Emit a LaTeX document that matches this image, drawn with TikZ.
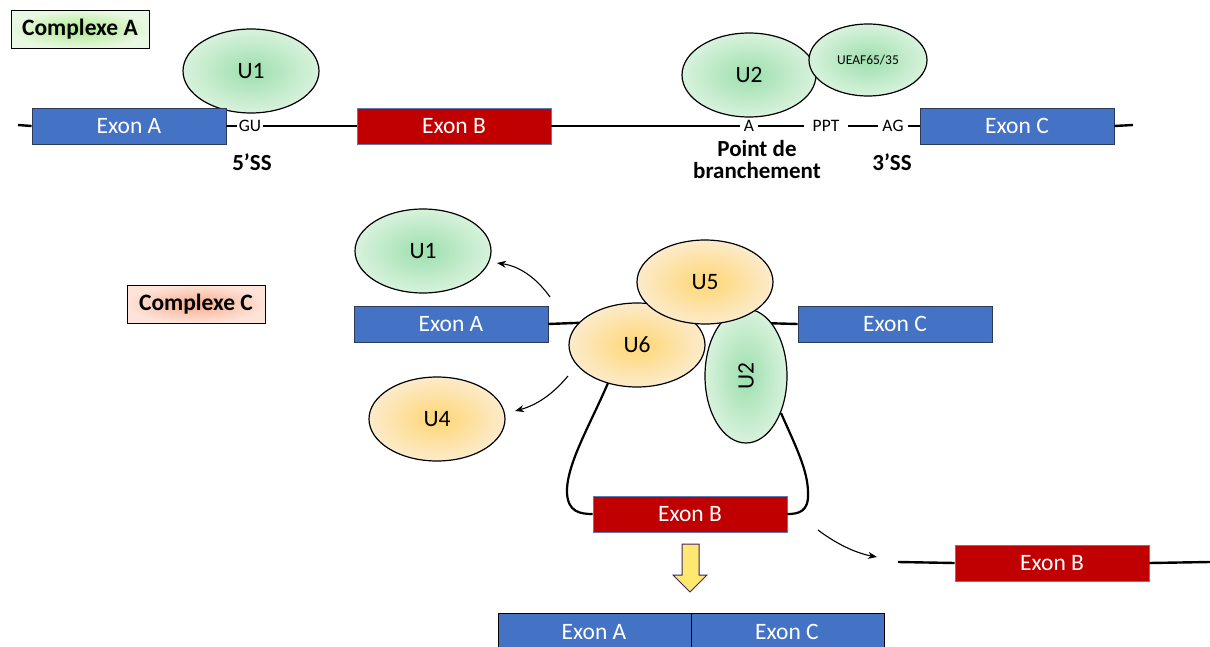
\documentclass[tikz,border=0pt]{standalone}
\usepackage{fontspec}
\setmainfont{Carlito}
\usetikzlibrary{shapes.geometric,arrows.meta}
\definecolor{exblue}{HTML}{4472C4}
\definecolor{exblueb}{HTML}{2B3A57}
\definecolor{exred}{HTML}{C00000}
\definecolor{exredb}{HTML}{5A7BB5}
\definecolor{gin}{HTML}{9DDFAE}
\definecolor{gout}{HTML}{D8F2DC}
\definecolor{yin}{HTML}{FFD673}
\definecolor{yout}{HTML}{FCEBCB}
\definecolor{cain}{HTML}{ACEA8C}
\definecolor{caout}{HTML}{E9F8E2}
\definecolor{ccin}{HTML}{F8AC8C}
\definecolor{ccout}{HTML}{FDE3D8}
\definecolor{arry}{HTML}{FFE870}
\definecolor{arrp}{HTML}{3F2266}
\tikzset{
  exbox/.style={draw=exblueb, line width=0.9pt, fill=exblue, text=white,
    minimum width=194pt, minimum height=36pt, inner sep=0pt,
    font=\fontsize{23.5}{26}\selectfont},
  exboxred/.style={exbox, draw=exredb, fill=exred},
  gell/.style={ellipse, draw=black, line width=1.2pt, inner color=gin, outer color=gout,
    minimum width=136pt, minimum height=84pt, inner sep=0pt,
    font=\fontsize{23.5}{26}\selectfont},
  yell/.style={gell, inner color=yin, outer color=yout},
  strand/.style={line width=2.4pt, black},
  site/.style={inner sep=0pt, font=\fontsize{17.5}{20}\selectfont},
  blab/.style={font=\fontsize{23}{26}\selectfont\bfseries, align=center},
  thinarr/.style={line width=1.1pt, -{Stealth[length=9pt,width=7pt]}},
  cplx/.style={draw=black, line width=1pt, minimum width=138pt, minimum height=38pt,
    inner sep=0pt, font=\fontsize{23.5}{26}\selectfont\bfseries}
}
\begin{document}
\begin{tikzpicture}[x=1pt,y=-1pt]
\useasboundingbox (0,0) rectangle (1210,647);
\fill[white] (0,0) rectangle (1210,647);

% ---------- Complexe A ----------
\node[cplx, inner color=cain, outer color=caout] (cA) at (80,29.5) {Complexe A};

\node[gell] (U1a) at (251,71) {U1};
\node[gell, minimum width=134pt] (U2a) at (749,75) {U2};
\node[gell, minimum width=118pt, minimum height=72pt, font=\fontsize{13.5}{15}\selectfont] (UEAF) at (868,60) {UEAF65/35};

\coordinate (L0) at (18,125);
\coordinate (L1) at (1133,125);
\node[exbox] (exA1) at (129,126) {Exon A};
\node[site, inner xsep=1.5pt] (GU) at (250,126) {GU};
\node[exboxred] (exB1) at (454,126) {Exon B};
\node[site, inner xsep=4pt] (Asite) at (749,126) {A};
\node[site, inner xsep=9pt] (PPT) at (826,126) {PPT};
\node[site, inner xsep=4pt] (AG) at (893,126) {AG};
\node[exbox] (exC1) at (1017,126) {Exon C};

\draw[strand] (L0) -- (exA1.west);
\draw[strand] (exA1.east) -- (GU.west);
\draw[strand] (GU.east) -- (exB1.west);
\draw[strand] (exB1.east) -- (Asite.west);
\draw[strand] (Asite.east) -- (PPT.west);
\draw[strand] (PPT.east) -- (AG.west);
\draw[strand] (AG.east) -- (exC1.west);
\draw[strand] (exC1.east) -- (L1);

\node[blab] (ss5) at (252,162) {5’SS};
\node[blab] (bp) at (757,160) {Point de\\[-4pt]branchement};
\node[blab] (ss3) at (892,162) {3’SS};

% ---------- Complexe C ----------
\node[cplx, inner color=ccin, outer color=ccout] (cC) at (196,304) {Complexe C};

\node[exbox] (exA2) at (451,324) {Exon A};
\node[exbox] (exC2) at (895,324) {Exon C};
\node[exboxred] (exB2) at (690,514) {Exon B};

\coordinate (U6in) at (600,322);
\coordinate (U2in) at (760,323);
\draw[strand] (exA2.east) -- (U6in);
\draw[strand] (exC2.west) -- (U2in);

\coordinate (lpA) at (608,383);
\coordinate (lpB) at (781,413);
\draw[strand, line width=2.2pt] (lpA) .. controls (590,425) and (566,465) .. (567,493)
   .. controls (568,512) and (580,514) .. (exB2.west);
\draw[strand, line width=2.2pt] (lpB) .. controls (795,445) and (808,470) .. (808,493)
   .. controls (809,512) and (798,514) .. (exB2.east);

\node[gell, minimum width=82pt, minimum height=134pt] (U2c) at (746,376) {\rotatebox{90}{U2}};
\node[yell] (U6) at (637,345) {U6};
\node[yell] (U5) at (705,282) {U5};

\node[gell] (U1c) at (423,251) {U1};
\node[yell] (U4) at (437,419) {U4};

\coordinate (a1s) at (550,297);
\coordinate (a1e) at (497,263);
\draw[thinarr] (a1s) .. controls (535,276) and (518,266) .. (a1e);
\coordinate (a4s) at (568,376);
\coordinate (a4e) at (515,411);
\draw[thinarr] (a4s) .. controls (553,394) and (537,405) .. (a4e);
\coordinate (a5s) at (818,530);
\coordinate (a5e) at (877,557);
\draw[thinarr] (a5s) .. controls (835,543) and (855,553) .. (a5e);

% excised exon B
\coordinate (R0) at (898,562);
\coordinate (R1) at (1210,562);
\node[exboxred] (exB3) at (1052,563) {Exon B};
\draw[strand] (R0) -- (exB3.west);
\draw[strand] (exB3.east) -- (R1);

% yellow arrow
\draw[fill=arry, draw=arrp, line width=1pt, line join=miter]
  (682,544) -- (699,544) -- (699,575) -- (707,575) -- (690,592) -- (673,575) -- (682,575) -- cycle;

% spliced product
\node[exbox, draw=black, minimum width=193pt, minimum height=37pt, anchor=north west] (exA4) at (498,613) {};
\node[exbox, draw=black, minimum width=193pt, minimum height=37pt, anchor=north west] (exC4) at (691,613) {};
\node[text=white, font=\fontsize{23.5}{26}\selectfont, inner sep=0pt] (tA4) at (594,632) {Exon A};
\node[text=white, font=\fontsize{23.5}{26}\selectfont, inner sep=0pt] (tC4) at (787,632) {Exon C};
\end{tikzpicture}
\end{document}
